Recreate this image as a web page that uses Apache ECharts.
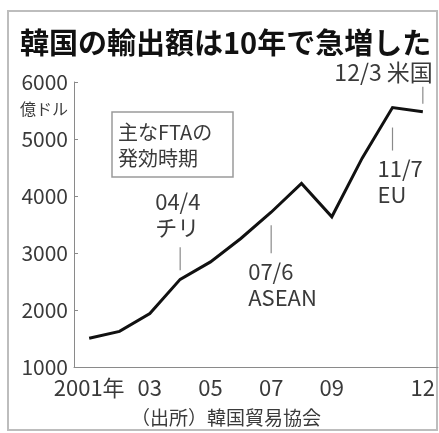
<!DOCTYPE html>
<html>
<head>
<meta charset="utf-8">
<script src="https://cdn.jsdelivr.net/npm/echarts@6/dist/echarts.min.js"></script>
<style>
  html, body { margin: 0; padding: 0; background: #fff; }
  #chart { width: 439px; height: 433px; }
</style>
</head>
<body>
<div id="chart"></div>
<script>
// Korean exports, 100 million USD (億ドル), 2001–2012
const years = ['2001', '2002', '2003', '2004', '2005', '2006', '2007', '2008', '2009', '2010', '2011', '2012'];
const exportValues = [1504, 1625, 1938, 2538, 2844, 3255, 3715, 4220, 3635, 4664, 5552, 5479];
const xTickLabels = ['2001年', '', '03', '', '05', '', '07', '', '09', '', '', '12'];
const yTickValues = [1000, 2000, 3000, 4000, 5000, 6000];

// FTA entry-into-force dates
const ftaYears = ['2004', '2007', '2011', '2012'];
const ftaDates = ['04/4', '07/6', '11/7', '12/3'];
const ftaPartners = ['チリ', 'ASEAN', 'EU', '米国'];

const FONT = '"Noto Sans CJK JP", "Noto Sans", sans-serif';
const TEXT = '#3a3a3a';
const AXIS = '#8a8a8a';

const chart = echarts.init(document.getElementById('chart'), null, { renderer: 'canvas' });

chart.setOption({
  backgroundColor: '#fff',
  animation: false,
  title: {
    text: '韓国の輸出額は10年で急増した',
    left: 15,
    top: 23,
    textStyle: { fontFamily: FONT, fontSize: 29, fontWeight: 'bold', color: '#111' }
  },
  grid: { left: 74, right: 1, top: 82, bottom: 66, containLabel: false },
  xAxis: {
    type: 'category',
    data: years,
    boundaryGap: true,
    axisLine: { lineStyle: { color: AXIS, width: 1 } },
    axisTick: { inside: true, alignWithLabel: true, length: 4, lineStyle: { color: AXIS } },
    axisLabel: {
      interval: 0,
      margin: 10,
      fontFamily: FONT,
      fontSize: 22,
      color: TEXT,
      formatter: (v, i) => xTickLabels[i]
    },
    splitLine: { show: false }
  },
  yAxis: {
    type: 'value',
    min: yTickValues[0],
    max: yTickValues[yTickValues.length - 1],
    interval: 1000,
    axisLine: { show: true, lineStyle: { color: AXIS, width: 1 } },
    axisTick: { show: true, inside: true, length: 4, lineStyle: { color: AXIS } },
    axisLabel: { margin: 6, fontFamily: FONT, fontSize: 21, color: TEXT, formatter: v => String(v) },
    splitLine: { show: false }
  },
  series: [{
    type: 'line',
    data: exportValues,
    symbol: 'none',
    lineStyle: { color: '#111', width: 3, join: 'miter' }
  }]
});

// Leader lines and labels for each FTA, anchored to the export line
const leaderLayout = [
  { from: -32, to: -9, textX: -25, textY: -78, align: 'left', twoLines: true, size: 22 },
  { from: 13, to: 41, textX: -23, textY: 59, align: 'left', twoLines: true, size: 22 },
  { from: 20, to: 43, textX: -15, textY: 61, align: 'left', twoLines: true, size: 22 },
  { from: -25, to: -8, textX: 10, textY: -39, align: 'right', twoLines: false, size: 23 }
];

const graphics = [
  // outer frame
  { type: 'rect', shape: { x: 8, y: 11, width: 429, height: 419 },
    style: { fill: null, stroke: '#bdbdbd', lineWidth: 2 }, z: 0 },
  // unit label
  { type: 'text', x: 68, y: 109,
    style: { text: '億ドル', font: '16px ' + FONT, fill: TEXT, align: 'right', verticalAlign: 'middle' } },
  // note box
  { type: 'rect', shape: { x: 112, y: 112, width: 121, height: 65 },
    style: { fill: '#fff', stroke: '#9a9a9a', lineWidth: 1.5 } },
  { type: 'text', x: 118, y: 132,
    style: { text: '主なFTAの', font: '20px ' + FONT, fill: TEXT, verticalAlign: 'middle' } },
  { type: 'text', x: 118, y: 158,
    style: { text: '発効時期', font: '20px ' + FONT, fill: TEXT, verticalAlign: 'middle' } },
  // source
  { type: 'text', x: 226, y: 418,
    style: { text: '（出所）韓国貿易協会', font: '19px ' + FONT, fill: TEXT, align: 'center', verticalAlign: 'middle' } }
];

ftaYears.forEach((yr, i) => {
  const idx = years.indexOf(yr);
  const [ax, ay] = chart.convertToPixel({ seriesIndex: 0 }, [idx, exportValues[idx]]);
  const L = leaderLayout[i];
  const font = L.size + 'px ' + FONT;
  graphics.push({
    type: 'line',
    shape: { x1: ax, y1: ay + L.from, x2: ax, y2: ay + L.to },
    style: { stroke: '#8a8a8a', lineWidth: 1.2 }
  });
  if (L.twoLines) {
    graphics.push({ type: 'text', x: ax + L.textX, y: ay + L.textY,
      style: { text: ftaDates[i], font, fill: TEXT, align: L.align, verticalAlign: 'middle' } });
    graphics.push({ type: 'text', x: ax + L.textX, y: ay + L.textY + 26,
      style: { text: ftaPartners[i], font, fill: TEXT, align: L.align, verticalAlign: 'middle' } });
  } else {
    graphics.push({ type: 'text', x: ax + L.textX, y: ay + L.textY,
      style: { text: ftaDates[i] + ' ' + ftaPartners[i], font, fill: TEXT, align: L.align, verticalAlign: 'middle' } });
  }
});

chart.setOption({ graphic: graphics });
</script>
</body>
</html>
